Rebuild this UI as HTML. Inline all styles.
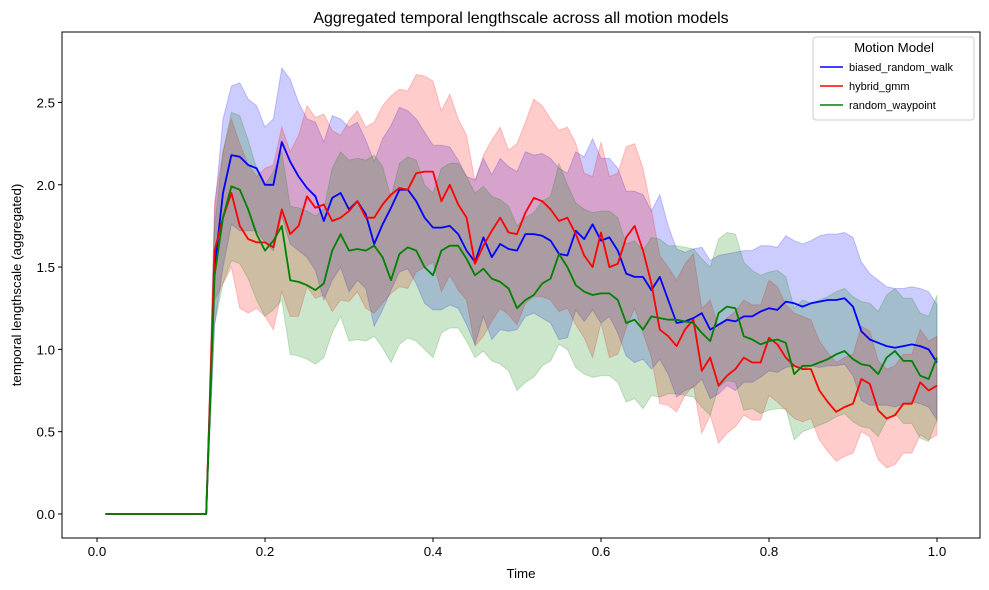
<!DOCTYPE html>
<html><head><meta charset="utf-8"><style>
body{margin:0;background:#fff}
svg{display:block;font-family:"Liberation Sans","DejaVu Sans",sans-serif}
</style></head><body>
<svg id="chart" width="989" height="590" viewBox="0 0 989 590" xmlns="http://www.w3.org/2000/svg">
<rect width="989" height="590" fill="#fff"/>
<text x="521" y="23" text-anchor="middle" font-size="16">Aggregated temporal lengthscale across all motion models</text>
<g id="plot"></g>
<g id="axes"></g>
<text x="521" y="578" text-anchor="middle" font-size="13.3">Time</text>
<text transform="translate(21,285) rotate(-90)" text-anchor="middle" font-size="13.3">temporal lengthscale (aggregated)</text>
<g>
<rect x="813" y="37" width="161" height="83" rx="3" fill="#fff" fill-opacity="0.8" stroke="#ccc"/>
<text x="894" y="52" text-anchor="middle" font-size="13.3">Motion Model</text>
<g><line x1="820" y1="67" x2="843" y2="67" stroke="#0000ff" stroke-width="1.5"/><text x="849" y="71" font-size="11">biased_random_walk</text></g>
<g><line x1="820" y1="86" x2="843" y2="86" stroke="#ff0000" stroke-width="1.5"/><text x="849" y="90" font-size="11">hybrid_gmm</text></g>
<g><line x1="820" y1="105" x2="843" y2="105" stroke="#008000" stroke-width="1.5"/><text x="849" y="109" font-size="11">random_waypoint</text></g>
</g>
</svg>
<script>
const zeros = [0,0,0,0,0,0,0,0,0,0,0,0,0];
const blueMean = zeros.concat([1.5,1.95,2.18,2.17,2.12,2.1,2.0,2.0,2.26,2.14,2.05,1.98,1.93,1.78,1.92,1.95,1.85,1.9,1.82,1.64,1.76,1.86,1.97,1.97,1.9,1.8,1.74,
1.74,1.75,1.7,1.6,1.53,1.68,1.56,1.64,1.61,1.6,1.7,1.7,1.69,1.66,1.58,1.57,1.72,1.67,1.76,1.66,1.68,1.6,1.46,1.44,1.44,1.36,1.44,1.3,1.16,
1.17,1.19,1.22,1.12,1.15,1.18,1.17,1.2,1.2,1.23,1.25,1.24,1.29,1.28,1.26,1.28,1.29,1.3,1.3,1.31,1.26,1.11,1.06,1.04,1.02,1.01,1.02,1.03,1.02,1.0,0.92]);
const redMean = zeros.concat([1.6,1.8,1.95,1.75,1.67,1.65,1.65,1.62,1.85,1.7,1.75,1.93,1.86,1.88,1.78,1.8,1.84,1.9,1.8,1.8,1.88,1.94,1.98,1.97,2.07,2.08,2.08,
1.9,2.0,1.88,1.8,1.52,1.63,1.72,1.8,1.71,1.7,1.83,1.92,1.9,1.85,1.78,1.8,1.7,1.57,1.5,1.71,1.5,1.52,1.68,1.75,1.6,1.4,1.12,1.08,1.02,
1.12,1.18,0.87,0.95,0.78,0.84,0.88,0.95,0.92,0.92,1.07,1.03,0.95,0.9,0.88,0.88,0.75,0.68,0.62,0.65,0.67,0.82,0.79,0.63,0.58,0.6,0.67,0.67,0.8,0.75,0.78]);
const greenMean = zeros.concat([1.45,1.8,1.99,1.97,1.85,1.7,1.6,1.66,1.75,1.42,1.41,1.39,1.36,1.4,1.6,1.7,1.6,1.61,1.6,1.63,1.56,1.42,1.58,1.62,1.6,1.5,1.45,
1.6,1.63,1.63,1.55,1.45,1.49,1.43,1.41,1.37,1.25,1.3,1.33,1.4,1.43,1.58,1.5,1.39,1.35,1.33,1.34,1.34,1.3,1.16,1.18,1.12,1.2,1.19,1.18,1.18,
1.17,1.16,1.1,1.05,1.22,1.26,1.25,1.08,1.06,1.03,1.05,1.06,1.04,0.85,0.9,0.9,0.92,0.94,0.97,0.99,0.94,0.91,0.9,0.85,0.95,0.99,0.93,0.93,0.84,0.82,0.95]);
const blueHalf = zeros.concat([0.35,0.45,0.42,0.45,0.4,0.38,0.35,0.4,0.45,0.5,0.45,0.42,
0.45,0.48,0.5,0.45,0.5,0.48,0.45,0.5,0.52,0.5,0.5,0.48,0.5,0.52,0.5,
0.5,0.48,0.45,0.45,0.5,0.48,0.5,0.52,0.5,0.48,0.5,0.48,0.5,0.5,0.52,0.5,0.48,0.5,0.52,0.5,
0.48,0.5,0.5,0.52,0.5,0.48,0.5,0.45,0.45,0.42,0.42,0.4,0.42,0.42,0.4,0.42,0.4,0.4,0.4,0.38,
0.38,0.4,0.38,0.38,0.38,0.4,0.4,0.4,0.4,0.42,0.42,0.4,0.38,0.36,0.36,0.35,0.35,0.35,0.35,0.35]);
const redHalf = zeros.concat([0.3,0.4,0.45,0.5,0.45,0.4,0.45,0.5,0.5,0.5,0.55,0.55,
0.55,0.55,0.55,0.5,0.55,0.55,0.55,0.58,0.6,0.6,0.6,0.6,0.6,0.58,0.55,
0.55,0.55,0.52,0.5,0.5,0.55,0.55,0.55,0.5,0.55,0.55,0.6,0.58,0.55,0.55,0.55,0.55,0.5,0.55,0.55,
0.55,0.55,0.55,0.5,0.5,0.45,0.45,0.42,0.4,0.4,0.4,0.38,0.35,0.35,0.35,0.35,0.35,0.35,0.35,0.35,
0.35,0.32,0.32,0.32,0.3,0.3,0.3,0.3,0.3,0.3,0.32,0.32,0.3,0.3,0.3,0.3,0.3,0.32,0.3,0.3]);
const greenHalf = zeros.concat([0.3,0.4,0.45,0.45,0.42,0.4,0.4,0.42,0.45,0.45,0.45,0.45,
0.45,0.45,0.5,0.5,0.55,0.55,0.55,0.55,0.55,0.5,0.55,0.55,0.55,0.5,0.5,
0.5,0.5,0.5,0.5,0.5,0.5,0.5,0.5,0.5,0.5,0.5,0.5,0.5,0.5,0.55,0.5,0.5,0.5,0.5,0.5,
0.5,0.5,0.48,0.48,0.48,0.48,0.48,0.45,0.45,0.45,0.45,0.45,0.45,0.45,0.45,0.45,0.45,0.42,0.42,0.42,
0.42,0.4,0.4,0.4,0.38,0.38,0.38,0.38,0.38,0.38,0.38,0.38,0.38,0.38,0.38,0.38,0.38,0.38,0.38,0.38]);
const xTicks = [0.0,0.2,0.4,0.6,0.8,1.0];
const xTickLabels = ["0.0","0.2","0.4","0.6","0.8","1.0"];
const yTicks = [0.0,0.5,1.0,1.5,2.0,2.5];
const yTickLabels = ["0.0","0.5","1.0","1.5","2.0","2.5"];

const times = blueMean.map((_, i) => 0.01 + i * 0.01);
const L=62,R=980,T=32,B=538, xMin=-0.0417,xMax=1.0512,yMin=-0.146,yMax=2.928;
const X = t => L + (t - xMin) / (xMax - xMin) * (R - L);
const Y = v => B - (v - yMin) / (yMax - yMin) * (B - T);
const NS = 'http://www.w3.org/2000/svg';
const plot = document.getElementById('plot'), axes = document.getElementById('axes');

const series = [
  {key:'biased-random-walk', color:'#0000ff', mean:blueMean, half:blueHalf},
  {key:'hybrid-gmm', color:'#ff0000', mean:redMean, half:redHalf},
  {key:'random-waypoint', color:'#008000', mean:greenMean, half:greenHalf}
];
series.forEach(s => {
  const up = s.mean.map((m,i) => X(times[i]).toFixed(1)+','+Y(m+s.half[i]).toFixed(1));
  const lo = s.mean.map((m,i) => X(times[i]).toFixed(1)+','+Y(Math.max(0,m-s.half[i])*(m>0?1:0)+(m>0?0:0)).toFixed(1)).reverse();
  const band = document.createElementNS(NS,'polygon');
  band.setAttribute('points', up.concat(lo).join(' '));
  band.setAttribute('fill', s.color); band.setAttribute('fill-opacity','0.2');
  band.setAttribute('stroke', s.color); band.setAttribute('stroke-opacity','0.2');
  
  
  plot.appendChild(band);
});
series.forEach(s => {
  const line = document.createElementNS(NS,'polyline');
  line.setAttribute('points', s.mean.map((m,i) => X(times[i]).toFixed(1)+','+Y(m).toFixed(1)).join(' '));
  line.setAttribute('fill','none'); line.setAttribute('stroke', s.color); line.setAttribute('stroke-width','1.8');
  line.setAttribute('stroke-linejoin','round');
  
  
  plot.appendChild(line);
});
const frame = document.createElementNS(NS,'rect');
frame.setAttribute('x',L); frame.setAttribute('y',T); frame.setAttribute('width',R-L); frame.setAttribute('height',B-T);
frame.setAttribute('fill','none'); frame.setAttribute('stroke','#000'); frame.setAttribute('stroke-width','1');


axes.appendChild(frame);
xTicks.forEach((t,i) => {
  const tk = document.createElementNS(NS,'line');
  tk.setAttribute('x1',X(t)); tk.setAttribute('x2',X(t)); tk.setAttribute('y1',B); tk.setAttribute('y2',B+4);
  tk.setAttribute('stroke','#000');
  
  
  axes.appendChild(tk);
  const tx = document.createElementNS(NS,'text');
  tx.setAttribute('x',X(t)); tx.setAttribute('y',B+18); tx.setAttribute('text-anchor','middle'); tx.setAttribute('font-size','13.3');
  tx.textContent = xTickLabels[i];
  
  
  axes.appendChild(tx);
});
yTicks.forEach((v,i) => {
  const tk = document.createElementNS(NS,'line');
  tk.setAttribute('x1',L-4); tk.setAttribute('x2',L); tk.setAttribute('y1',Y(v)); tk.setAttribute('y2',Y(v));
  tk.setAttribute('stroke','#000');
  
  
  axes.appendChild(tk);
  const tx = document.createElementNS(NS,'text');
  tx.setAttribute('x',L-7); tx.setAttribute('y',Y(v)+5); tx.setAttribute('text-anchor','end'); tx.setAttribute('font-size','13.3');
  tx.textContent = yTickLabels[i];
  
  
  axes.appendChild(tx);
});
</script>
</body></html>
